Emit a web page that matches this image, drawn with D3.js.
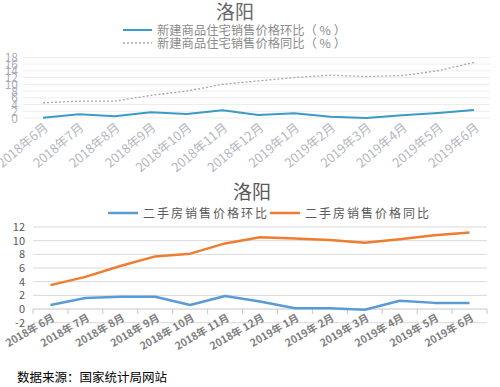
<!DOCTYPE html>
<html>
<head>
<meta charset="UTF-8">
<style>
  body { margin: 0; background: #fff; }
  text { font-family: "Noto Sans CJK SC", "Noto Sans", sans-serif; }
</style>
</head>
<body>
<svg id="chart" width="500" height="387"></svg>
<script src="https://d3js.org/d3.v7.min.js"></script>
<script>
// months shared by both charts
var months = ["2018年6月","2018年7月","2018年8月","2018年9月","2018年10月","2018年11月","2018年12月",
              "2019年1月","2019年2月","2019年3月","2019年4月","2019年5月","2019年6月"];
var monthsSpaced = ["2018年 6月","2018年 7月","2018年 8月","2018年 9月","2018年 10月","2018年 11月","2018年 12月",
              "2019年 1月","2019年 2月","2019年 3月","2019年 4月","2019年 5月","2019年 6月"];

// top chart: new housing
var newMoM = [0.1, 1.1, 0.5, 1.7, 1.2, 2.3, 0.9, 1.4, 0.4, 0.0, 0.8, 1.5, 2.4];
var newYoY = [4.5, 5.0, 5.0, 6.7, 8.0, 10.0, 11.0, 12.0, 12.7, 12.3, 12.6, 14.0, 16.5];
var topTicks = [0, 2, 4, 6, 8, 10, 12, 14, 16, 18];

// bottom chart: second-hand housing
var usedMoM = [0.6, 1.6, 1.8, 1.8, 0.6, 1.9, 1.1, 0.1, 0.1, -0.1, 1.2, 0.9, 0.9];
var usedYoY = [3.5, 4.7, 6.3, 7.7, 8.1, 9.6, 10.5, 10.3, 10.1, 9.7, 10.2, 10.8, 11.2];
var bottomTicks = [-2, 0, 2, 4, 6, 8, 10, 12];

var svg = d3.select("#chart");

// ---------- top chart ----------
var x1 = d3.scalePoint().domain(months).range([43, 474]);
var y1 = d3.scaleLinear().domain([0, 18]).range([118, 57.3]);

svg.append("text").attr("x", 235).attr("y", 19).attr("text-anchor", "middle")
  .attr("font-size", 19).attr("fill", "#666").text("洛阳");

// legend
svg.append("line").attr("x1", 123).attr("x2", 152).attr("y1", 30).attr("y2", 30)
  .attr("stroke", "#3C9AC4").attr("stroke-width", 2);
svg.append("text").attr("x", 157).attr("y", 34.5).attr("font-size", 12.3).attr("fill", "#8C8C8C")
  .text("新建商品住宅销售价格环比（ % ）");
svg.append("line").attr("x1", 123).attr("x2", 152).attr("y1", 43).attr("y2", 43)
  .attr("stroke", "#A6A6A6").attr("stroke-width", 1.3).attr("stroke-dasharray", "2,2");
svg.append("text").attr("x", 157).attr("y", 47.5).attr("font-size", 12.3).attr("fill", "#8C8C8C")
  .text("新建商品住宅销售价格同比（ % ）");

svg.append("g").selectAll("line").data(topTicks).join("line")
  .attr("x1", 23).attr("x2", 490)
  .attr("y1", d => y1(d)).attr("y2", d => y1(d))
  .attr("stroke", "#EDEDED").attr("stroke-width", 1);

svg.append("g").selectAll("text").data(topTicks).join("text")
  .attr("x", 18).attr("y", d => y1(d) + 4.5).attr("text-anchor", "end")
  .attr("font-size", 12).attr("fill", "#A9AEBB").text(d => d);

svg.append("g").selectAll("text").data(months).join("text")
  .attr("transform", d => "translate(" + (x1(d) + 6) + ",129) rotate(-40)")
  .attr("text-anchor", "end").attr("font-size", 12.8).attr("fill", "#B3B7C0").text(d => d);

var line1 = d3.line().x((d, i) => x1(months[i])).y(d => y1(d));
svg.append("path").datum(newYoY).attr("d", line1).attr("fill", "none")
  .attr("stroke", "#A6A6A6").attr("stroke-width", 1.3).attr("stroke-dasharray", "2,2");
svg.append("path").datum(newMoM).attr("d", line1).attr("fill", "none")
  .attr("stroke", "#3C9AC4").attr("stroke-width", 2);

// ---------- bottom chart ----------
var x2 = d3.scaleBand().domain(months).range([33, 487]);
var y2 = d3.scaleLinear().domain([-2, 12]).range([322.7, 227]);

svg.append("text").attr("x", 252).attr("y", 199).attr("text-anchor", "middle")
  .attr("font-size", 19).attr("fill", "#595959").text("洛阳");

svg.append("line").attr("x1", 108).attr("x2", 138).attr("y1", 213).attr("y2", 213)
  .attr("stroke", "#5B9BD5").attr("stroke-width", 2.5);
svg.append("text").attr("x", 143).attr("y", 217.5).attr("font-size", 12).attr("letter-spacing", 2)
  .attr("fill", "#595959").text("二手房销售价格环比");
svg.append("line").attr("x1", 270).attr("x2", 300).attr("y1", 213).attr("y2", 213)
  .attr("stroke", "#ED7D31").attr("stroke-width", 2.5);
svg.append("text").attr("x", 305).attr("y", 217.5).attr("font-size", 12).attr("letter-spacing", 2)
  .attr("fill", "#595959").text("二手房销售价格同比");

svg.append("g").selectAll("line").data(bottomTicks).join("line")
  .attr("x1", 33).attr("x2", 487)
  .attr("y1", d => y2(d)).attr("y2", d => y2(d))
  .attr("stroke", d => d === 0 ? "#C8C8C8" : "#D9D9D9").attr("stroke-width", 1);

// tick marks between categories on the zero axis
var tickX = months.map(d => x2(d)).concat([x2(months[months.length - 1]) + x2.bandwidth()]);
svg.append("g").selectAll("line").data(tickX).join("line")
  .attr("x1", d => d).attr("x2", d => d)
  .attr("y1", y2(0)).attr("y2", y2(0) + 5)
  .attr("stroke", "#C8C8C8");

svg.append("g").selectAll("text").data(bottomTicks).join("text")
  .attr("x", 25).attr("y", d => y2(d) + 4).attr("text-anchor", "end")
  .attr("font-size", 11).attr("fill", "#595959").text(d => d);

svg.append("g").selectAll("text").data(monthsSpaced).join("text")
  .attr("transform", (d, i) => "translate(" + (x2(months[i]) + x2.bandwidth() / 2 + 5) + ",320) rotate(-30)")
  .attr("text-anchor", "end").attr("font-size", 10.5).attr("font-weight", "bold")
  .attr("fill", "#808080").text(d => d);

var line2 = d3.line().x((d, i) => x2(months[i]) + x2.bandwidth() / 2).y(d => y2(d));
svg.append("path").datum(usedMoM).attr("d", line2).attr("fill", "none")
  .attr("stroke", "#5B9BD5").attr("stroke-width", 2.5).attr("stroke-linejoin", "round");
svg.append("path").datum(usedYoY).attr("d", line2).attr("fill", "none")
  .attr("stroke", "#ED7D31").attr("stroke-width", 2.5).attr("stroke-linejoin", "round");

// source
svg.append("text").attr("x", 17).attr("y", 382).attr("font-size", 12.5).attr("fill", "#000")
  .text("数据来源：国家统计局网站");
</script>
</body>
</html>
